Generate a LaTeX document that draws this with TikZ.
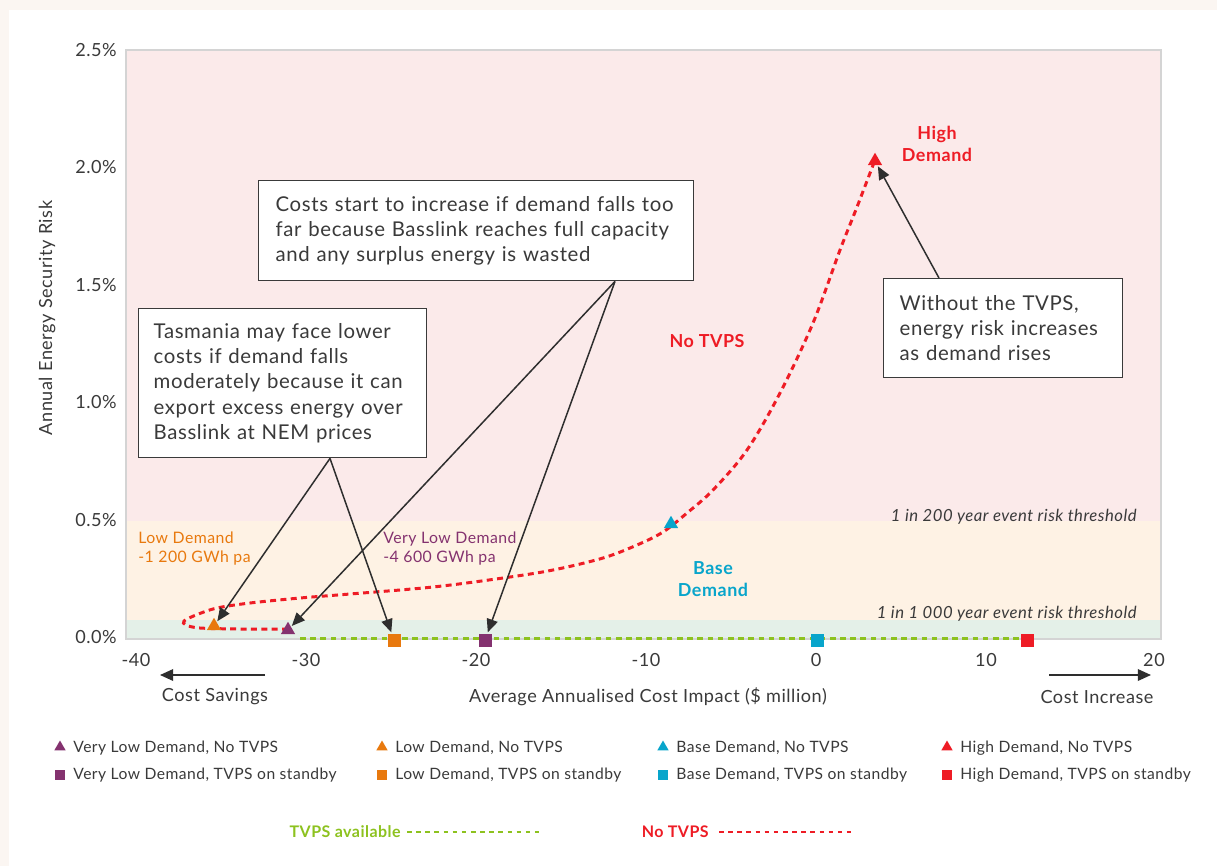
\documentclass[tikz,border=0pt]{standalone}
\usepackage{fontspec}
\setmainfont{Lato}[LetterSpace=3]
\usetikzlibrary{arrows.meta,calc,shapes.geometric}
\definecolor{outerbg}{HTML}{FBF6F2}
\definecolor{pinkband}{HTML}{FBEAEA}
\definecolor{creamband}{HTML}{FEF2E4}
\definecolor{greenband}{HTML}{E4F0E8}
\definecolor{framec}{HTML}{D4D4D4}
\definecolor{txt}{HTML}{3A3A3A}
\definecolor{cpurple}{HTML}{84326F}
\definecolor{corange}{HTML}{E8790E}
\definecolor{ccyan}{HTML}{08A5CB}
\definecolor{cred}{HTML}{EE1C25}
\definecolor{cgreen}{HTML}{8DC21F}
\tikzset{
  tick/.style={font=\fontsize{10.3}{12}\selectfont, text=txt, inner sep=0},
  boxtxt/.style={draw=txt, line width=0.8pt, fill=white, anchor=north west, align=left,
     font=\fontsize{11.6}{14.3}\selectfont, text=txt, inner ysep=0, inner xsep=0},
  leg/.style={font=\fontsize{8.9}{10}\selectfont, text=txt, inner sep=0, anchor=west},
  catlbl/.style={font=\fontsize{9.0}{11}\selectfont, inner sep=0, anchor=north west, align=left},
  bigbold/.style={font=\bfseries\fontsize{10.2}{12.4}\selectfont, inner sep=0, align=center},
  thr/.style={font=\itshape\fontsize{9.5}{11}\selectfont, text=txt, inner sep=0, anchor=east},
  tri/.style={regular polygon, regular polygon sides=3, minimum size=9.4pt, inner sep=0, draw=none},
  ltri/.style={regular polygon, regular polygon sides=3, minimum size=7.4pt, inner sep=0, draw=none},
  sq/.style={rectangle, minimum size=7.4pt, inner sep=0, draw=none},
  lsq/.style={rectangle, minimum size=6.2pt, inner sep=0, draw=none},
  arr/.style={draw=txt!80!black, line width=0.85pt, -{Triangle[length=7.5pt,width=6.4pt]}, shorten >=0.5pt},
  carr/.style={draw=txt!80!black, line width=0.9pt, -{Triangle[length=7.5pt,width=6.6pt]}},
  nocurve/.style={draw=cred, line width=1.7pt, dash pattern=on 3.4pt off 2.5pt},
  tvpsline/.style={draw=cgreen, line width=1.7pt, dash pattern=on 3.2pt off 2.6pt},
}
\begin{document}
\begin{tikzpicture}[x=0.02cm,y=-0.02cm]
\useasboundingbox (0,0) rectangle (1217,866);
\fill[outerbg] (0,0) rectangle (1217,866);
\fill[white] (9,10) rectangle (1217,866);
% bands
\fill[pinkband] (126,50) rectangle (1161,521);
\fill[creamband] (126,521) rectangle (1161,620);
\fill[greenband] (126,620) rectangle (1161,639);
\draw[framec, line width=0.8pt] (126,50) rectangle (1161,639);
% y ticks
\foreach \v/\y/\n in {2.5/50/a,2.0/167/b,1.5/285/c,1.0/402/d,0.5/520/e,0.0/637/f}
  \node[tick, anchor=east] (yt\n) at (117,\y) {\v\%};
% x ticks
\foreach \v/\x/\n in {-40/136/a,-30/306/b,-20/476/c,-10/646/d,0/816/e,10/986/f,20/1154/g}
  \node[tick] (xt\n) at (\x,660) {\v};
% axis titles
\node[tick, rotate=90] (ytitle) at (47,318) {Annual Energy Security Risk};
\node[tick] (xtitle) at (648,697) {Average Annualised Cost Impact (\$ million)};
\node[tick] (csav) at (215,697) {Cost Savings};
\node[tick] (cinc) at (1097,697) {Cost Increase};
\coordinate (csA) at (265,675); \coordinate (csB) at (160,675);
\coordinate (ciA) at (1049,675); \coordinate (ciB) at (1151,675);
\draw[carr] (csA) -- (csB);
\draw[carr] (ciA) -- (ciB);
% threshold labels
\node[thr] (t200) at (1137,517) {1 in 200 year event risk threshold};
\node[thr] (t1000) at (1137,614) {1 in 1~000 year event risk threshold};
% TVPS available line
\draw[tvpsline] (300,638) -- (1027,638);
% No TVPS curve
\draw[nocurve] plot[smooth, tension=0.55] coordinates {
 (288,629) (240,629) (200,628) (186,625) (184,621) (196,615) (217,608) (250,603)
 (300,598) (350,594) (433,587) (503,578) (553,570) (603,558) (637,545) (663,532)
 (687,513) (713,490) (747,450) (780,393) (813,323) (840,250) (857,207) (875,160)};
% markers
\node[tri, fill=cpurple] (vlN) at (288,630) {};
\node[tri, fill=corange] (loN) at (214,626) {};
\node[tri, fill=ccyan] (baN) at (671,524) {};
\node[tri, fill=cred] (hiN) at (875,161) {};
\node[sq, fill=corange] (loS) at (394,640) {};
\node[sq, fill=cpurple] (vlS) at (485,640) {};
\node[sq, fill=ccyan] (baS) at (817,640) {};
\node[sq, fill=cred] (hiS) at (1027,640) {};
% category labels
\node[catlbl, text=corange] (lolbl) at (138,531) {Low Demand\\-1~200 GWh pa};
\node[catlbl, text=cpurple] (vllbl) at (383,531) {Very Low Demand\\-4~600 GWh pa};
\node[bigbold, text=ccyan] (balbl) at (713,579) {Base\\Demand};
\node[bigbold, text=cred] (hilbl) at (937,144) {High\\Demand};
\node[bigbold, text=cred] (notvps) at (707,341) {No TVPS};
% boxes
\node[boxtxt, minimum width=435*0.02cm, minimum height=100*0.02cm, text width=401*0.02cm, inner xsep=17*0.02cm] (b1) at (258,180)
 {Costs start to increase if demand falls too\\far because Basslink reaches full capacity\\and any surplus energy is wasted};
\node[boxtxt, minimum width=288*0.02cm, minimum height=149*0.02cm, text width=258*0.02cm, inner xsep=15*0.02cm] (b2) at (138,308)
 {Tasmania may face lower\\costs if demand falls\\moderately because it can\\export excess energy over\\Basslink at NEM prices};
\node[boxtxt, minimum width=239*0.02cm, minimum height=99*0.02cm, text width=207*0.02cm, inner xsep=16*0.02cm] (b3) at (883,278)
 {Without the TVPS,\\energy risk increases\\as demand rises};
% annotation arrows
\coordinate (b1p) at ($(b1.south west)+(357,0)$);
\coordinate (b2p) at ($(b2.south west)+(192,0)$);
\coordinate (b3p) at ($(b3.north west)+(56,0)$);
\draw[arr] (b1p) -- (vlN);
\draw[arr] (b1p) -- (vlS);
\draw[arr] (b2p) -- (loN);
\draw[arr] (b2p) -- (loS);
\draw[arr] (b3p) -- (hiN);
% legend
\node[ltri, fill=cpurple] (lg1m) at (60,747) {};
\node[leg] (lg1) at (73,748) {Very Low Demand, No TVPS};
\node[lsq, fill=cpurple] (lg2m) at (60,775) {};
\node[leg] (lg2) at (73,775) {Very Low Demand, TVPS on standby};
\node[ltri, fill=corange] (lg3m) at (382,747) {};
\node[leg] (lg3) at (395,748) {Low Demand, No TVPS};
\node[lsq, fill=corange] (lg4m) at (382,775) {};
\node[leg] (lg4) at (395,775) {Low Demand, TVPS on standby};
\node[ltri, fill=ccyan] (lg5m) at (663,747) {};
\node[leg] (lg5) at (676,748) {Base Demand, No TVPS};
\node[lsq, fill=ccyan] (lg6m) at (663,775) {};
\node[leg] (lg6) at (676,775) {Base Demand, TVPS on standby};
\node[ltri, fill=cred] (lg7m) at (947,747) {};
\node[leg] (lg7) at (960,748) {High Demand, No TVPS};
\node[lsq, fill=cred] (lg8m) at (947,775) {};
\node[leg] (lg8) at (960,775) {High Demand, TVPS on standby};
% bottom legend
\node[font=\bfseries\fontsize{9.1}{10}\selectfont, text=cgreen, inner sep=0, anchor=east] (lgA) at (401,832) {TVPS available};
\coordinate (lgAe) at (540,832);
\draw[tvpsline, line width=1.3pt, dash pattern=on 2.6pt off 2.6pt] ($(lgA.east)+(6,0)$) -- (lgAe);
\node[font=\bfseries\fontsize{9.1}{10}\selectfont, text=cred, inner sep=0, anchor=east] (lgB) at (709,832) {No TVPS};
\coordinate (lgBe) at (853,832);
\draw[nocurve, line width=1.3pt, dash pattern=on 2.6pt off 2.6pt] ($(lgB.east)+(10,0)$) -- (lgBe);
\end{tikzpicture}
\end{document}
